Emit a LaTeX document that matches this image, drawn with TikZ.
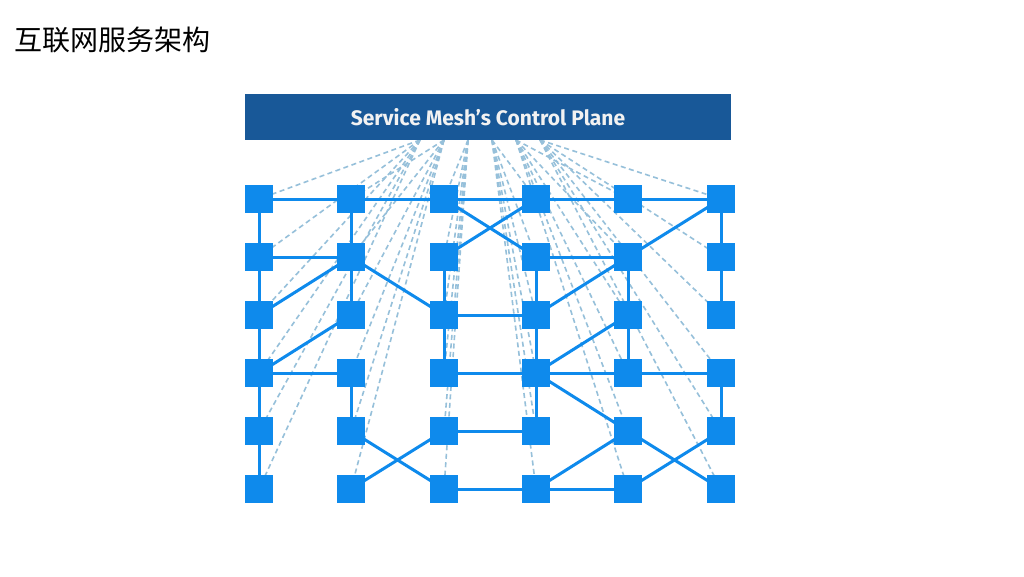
\documentclass[tikz,border=0pt]{standalone}
\usepackage{fontspec}
\newfontfamily\cjk{Noto Sans CJK SC}
\newfontfamily\boxfont{Fira Sans}
\usetikzlibrary{backgrounds}
\definecolor{nodeblue}{RGB}{14,138,236}
\definecolor{planeblue}{RGB}{24,88,152}
\definecolor{dashblue}{RGB}{150,192,218}
\begin{document}
\begin{tikzpicture}[x=1pt,y=-1pt,
  svc/.style={draw=none,fill=nodeblue,minimum size=28pt,inner sep=0pt},
  link/.style={draw=nodeblue,line width=3pt},
  ctl/.style={draw=dashblue,line width=1.6pt,dash pattern=on 5pt off 3.5pt}]
\useasboundingbox (0,0) rectangle (1024,576);
\node[anchor=west,font=\cjk\fontsize{28}{32}\selectfont,inner sep=0pt] (title) at (14,40) {互联网服务架构};
\node[fill=planeblue, minimum width=486pt, minimum height=46pt, inner sep=0pt, text=white!90!gray, font=\boxfont\bfseries\fontsize{21}{24}\selectfont] (plane) at (488,117) {Service Mesh’s Control Plane};
\foreach \x [count=\c] in {259,351,444,536,628,721}
  \foreach \y [count=\r] in {199,257,315,373,431,489}
    \node[svc] (n\c\r) at (\x,\y) {};
\foreach \c in {1,...,6}
  \coordinate (o\c) at ({420+(\c-1)*24},140);
\begin{pgfonlayer}{background}
\fill[white] (0,0) rectangle (1024,576);
\foreach \c in {1,...,6}
  \foreach \r in {1,...,6}
    \draw[ctl] (o\c) -- (n\c\r.center);
\foreach \a/\b in {n11/n21,n21/n31,n31/n41,n41/n51,n51/n61,n12/n22,n42/n52,n33/n43,
  n14/n24,n34/n44,n44/n54,n54/n64,n35/n45,n36/n46,n46/n56,
  n11/n12,n12/n13,n13/n14,n14/n15,n15/n16,n21/n22,n22/n23,n24/n25,n32/n33,n33/n34,
  n42/n43,n43/n44,n44/n45,n52/n53,n53/n54,n61/n62,n62/n63,n64/n65,
  n13/n22,n14/n23,n22/n33,n31/n42,n32/n41,n61/n52,n52/n43,n53/n44,n44/n55,
  n25/n36,n26/n35,n55/n66,n56/n65,n46/n55}
  \draw[link] (\a.center) -- (\b.center);
\end{pgfonlayer}
\end{tikzpicture}
\end{document}
